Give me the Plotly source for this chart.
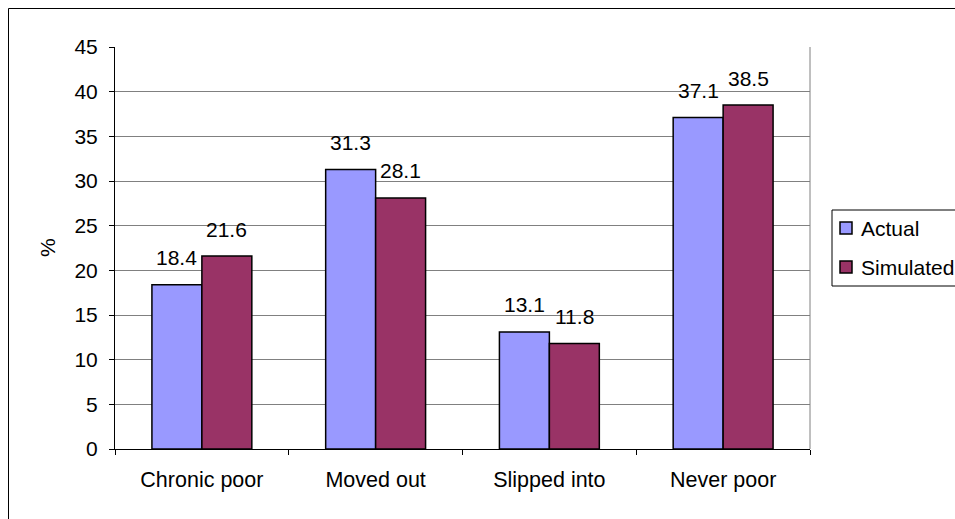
import plotly.graph_objects as go

# Poverty transition categories and shares (%)
categories = ["Chronic poor", "Moved out", "Slipped into", "Never poor"]
actual = [18.4, 31.3, 13.1, 37.1]
simulated = [21.6, 28.1, 11.8, 38.5]
series_names = ["Actual", "Simulated"]
series_colors = ["#9999FF", "#993366"]
y_ticks = [0, 5, 10, 15, 20, 25, 30, 35, 40, 45]

W, H = 955, 519
L, R, T, B = 115, 145, 47, 70
PW, PH = W - L - R, H - T - B
FONT = "Liberation Sans, Arial, sans-serif"
FS = 21


def px_x(x):
    return (x - L) / PW


def px_y(y):
    return (H - B - y) / PH


fig = go.Figure()
for name, vals, col in zip(series_names, [actual, simulated], series_colors):
    fig.add_trace(go.Bar(
        x=categories, y=vals, name=name,
        marker=dict(color=col, line=dict(color="black", width=1.5)),
        showlegend=False,
    ))

# value labels above each bar
annotations = []
for shift, vals in zip([-25, 25], [actual, simulated]):
    for c, v in zip(categories, vals):
        annotations.append(dict(
            x=c, y=v, xref="x", yref="y", text=f"{v}", showarrow=False,
            xshift=shift, yshift=27, xanchor="center", yanchor="middle",
            font=dict(family=FONT, size=FS, color="black"),
        ))

# y-axis title
annotations.append(dict(
    x=px_x(47), y=0.5, xref="paper", yref="paper", text="%", showarrow=False,
    textangle=-90, xanchor="center", yanchor="middle",
    font=dict(family=FONT, size=FS, color="black"),
))

shapes = []
# chart frame
shapes.append(dict(type="rect", xref="paper", yref="paper",
                   x0=px_x(8.5), x1=px_x(965), y0=px_y(530), y1=px_y(8.5),
                   line=dict(color="black", width=1), layer="below"))
# right edge of plot area
shapes.append(dict(type="line", xref="paper", yref="paper",
                   x0=1, x1=1, y0=0, y1=1,
                   line=dict(color="#808080", width=1)))

# legend box with swatches
shapes.append(dict(type="rect", xref="paper", yref="paper",
                   x0=px_x(832), x1=px_x(965), y0=px_y(286), y1=px_y(210),
                   line=dict(color="black", width=1), fillcolor="white"))
for i, (name, col) in enumerate(zip(series_names, series_colors)):
    cy = 228 + 39 * i
    shapes.append(dict(type="rect", xref="paper", yref="paper",
                       x0=px_x(840), x1=px_x(852), y0=px_y(cy + 6), y1=px_y(cy - 6),
                       line=dict(color="black", width=1.5), fillcolor=col))
    annotations.append(dict(
        x=px_x(859), y=px_y(cy), xref="paper", yref="paper", text=name,
        showarrow=False, xanchor="left", yanchor="middle",
        font=dict(family=FONT, size=FS, color="black"),
    ))

fig.update_layout(
    width=W, height=H,
    margin=dict(l=L, r=R, t=T, b=B, pad=0),
    paper_bgcolor="white", plot_bgcolor="white",
    barmode="group", bargap=0.425, bargroupgap=0,
    font=dict(family=FONT, size=FS, color="black"),
    annotations=annotations, shapes=shapes,
    showlegend=False,
)
fig.update_xaxes(
    type="category", showline=True, linecolor="black", linewidth=1,
    ticks="outside", tickson="boundaries", ticklen=5, tickcolor="black",
    showgrid=False, ticklabelstandoff=11,
    tickfont=dict(family=FONT, size=21.5, color="black"),
)
fig.update_yaxes(
    range=[0, 45], tickvals=y_ticks, showline=True, linecolor="black", linewidth=1,
    ticks="outside", ticklen=5, tickcolor="black",
    showgrid=True, gridcolor="#808080", gridwidth=1, zeroline=False,
    ticklabelstandoff=7,
    tickfont=dict(family=FONT, size=FS, color="black"),
)

fig.write_html("out.html")
